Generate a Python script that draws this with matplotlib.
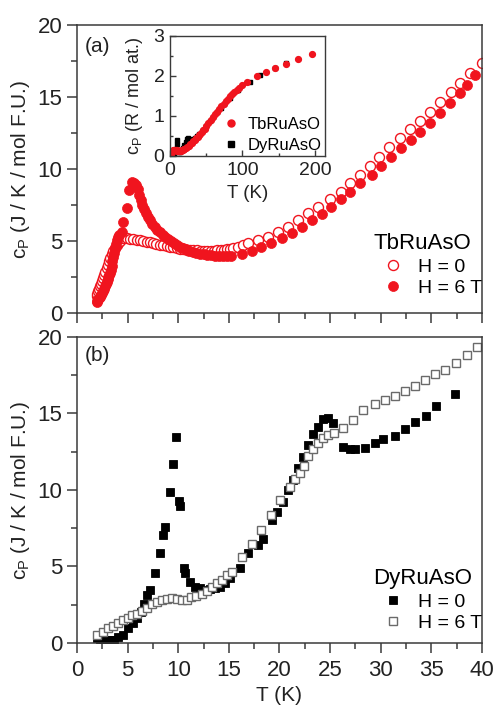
import numpy as np
import matplotlib
matplotlib.use("Agg")
import matplotlib.pyplot as plt

plt.rcParams['font.family'] = ['Liberation Sans', 'DejaVu Sans']
plt.rcParams['mathtext.fontset'] = 'custom'
plt.rcParams['mathtext.rm'] = 'Liberation Sans'
plt.rcParams['mathtext.it'] = 'Liberation Sans:italic'

# TbRuAsO, H = 0 (open circles)
tb_T_h0 = [1.94, 2.02, 2.1, 2.2, 2.3, 2.4, 2.5, 2.6, 2.7, 2.8, 2.93, 3.05, 3.17, 3.3,
           3.45, 3.6, 3.75, 3.92, 4.08, 4.25, 4.41, 4.65, 4.9, 5.2, 5.56, 5.9, 6.25,
           6.55, 6.9, 7.2, 7.53, 7.85, 8.2, 8.5, 8.85, 9.2, 9.5, 9.85, 10.2, 10.5,
           10.85, 11.15, 11.5, 11.85, 12.2, 12.5, 12.85, 13.2, 13.5, 13.85, 14.2,
           14.5, 14.8, 15.1, 15.4, 15.9, 16.4, 16.9, 17.9, 18.9, 19.9, 20.87, 21.86,
           22.85, 23.8, 25.0, 26.04, 26.96, 27.95, 28.9, 29.86, 30.85, 31.9, 32.9,
           33.9, 34.9, 35.9, 36.9, 37.8, 38.8, 40.0]
tb_c_h0 = [1.2, 1.35, 1.5, 1.65, 1.85, 2.05, 2.25, 2.45, 2.65, 2.85, 3.1, 3.35, 3.6, 3.85,
           4.1, 4.3, 4.5, 4.7, 4.84, 5.0, 5.19, 5.22, 5.2, 5.15, 5.12, 5.08, 5.05,
           5.03, 4.96, 4.92, 4.88, 4.8, 4.75, 4.72, 4.66, 4.6, 4.56, 4.5, 4.46, 4.42,
           4.4, 4.38, 4.37, 4.35, 4.34, 4.33, 4.33, 4.33, 4.33, 4.35, 4.36,
           4.38, 4.42, 4.46, 4.5, 4.6, 4.72, 4.88, 5.07, 5.3, 5.65, 6.0, 6.46,
           6.92, 7.38, 7.9, 8.42, 9.0, 9.58, 10.2, 10.85, 11.5, 12.13, 12.75,
           13.36, 13.98, 14.68, 15.37, 15.99, 16.65, 17.34]

# TbRuAsO, H = 6 T (filled circles)
tb_T_h6 = [1.94, 2.0, 2.08, 2.17, 2.27, 2.36, 2.45, 2.55, 2.65, 2.75, 2.85, 2.93, 3.02,
           3.1, 3.18, 3.26, 3.34, 3.42, 3.5, 3.59, 3.67, 3.75, 3.83, 3.92, 4.0, 4.1,
           4.41, 4.57, 4.9, 5.17, 5.4, 5.6, 5.8, 6.0, 6.15, 6.3, 6.45, 6.6, 6.8, 7.0,
           7.2, 7.45, 7.7, 7.95, 8.2, 8.45, 8.7, 9.0, 9.3, 9.6, 9.9, 10.2, 10.5, 10.8,
           11.1, 11.45, 11.8, 12.15, 12.5, 12.85, 13.2, 13.6, 14.0, 14.4, 14.8, 15.2,
           16.3, 17.25, 18.2, 19.2, 20.2, 21.2, 22.2, 23.2, 24.2, 25.1, 26.1, 27.0,
           28.0, 29.1, 30.0, 31.0, 32.0, 33.0, 33.9, 34.9, 35.9, 36.8, 37.8, 38.5, 39.3]
tb_c_h6 = [0.79, 0.85, 0.95, 1.05, 1.13, 1.25, 1.4, 1.52, 1.68, 1.85, 2.02, 2.17, 2.35,
           2.5, 2.62, 2.75, 3.0, 3.3, 3.6, 3.9, 4.2, 4.49, 4.8, 5.07, 5.25, 5.42,
           5.65, 6.34, 7.27, 8.54, 9.1, 9.05, 8.9, 8.6, 8.2, 7.85, 7.5, 7.2, 6.95, 6.7,
           6.46, 6.2, 6.0, 5.78, 5.6, 5.45, 5.3, 5.12, 4.98, 4.84, 4.72, 4.6, 4.5, 4.42,
           4.34, 4.27, 4.19, 4.12, 4.07, 4.03, 4.0, 3.98, 3.96, 3.96, 3.96, 3.97,
           4.12, 4.33, 4.56, 4.84, 5.19, 5.53, 6.0, 6.46, 6.88, 7.38, 7.9, 8.42,
           9.0, 9.58, 10.2, 10.85, 11.44, 12.0, 12.6, 13.17, 13.87, 14.56, 15.26, 15.83, 16.5]

# DyRuAsO, H = 0 (filled squares)
dy_T_h0 = [1.94, 2.3, 2.6, 2.95, 3.3, 3.65, 4.08, 4.57, 5.07, 5.56, 5.96, 6.29, 6.62,
           6.95, 7.2, 7.7, 8.2, 8.53, 8.7, 9.19, 9.45, 9.78, 10.1, 10.2, 10.57, 10.7,
           11.16, 11.65, 12.1, 12.6, 13.1, 13.6, 14.1, 14.6, 15.1, 16.1, 16.9, 17.9,
           18.4, 19.3, 19.8, 20.3, 20.8, 21.3, 21.8, 22.35, 22.85, 23.3, 23.8, 24.3,
           24.8, 25.3, 26.3, 26.96, 27.45, 28.4, 29.4, 30.25, 31.4, 32.4, 33.4, 34.5,
           35.5, 37.3]
dy_c_h0 = [0.3, 0.25, 0.22, 0.2, 0.2, 0.22, 0.41, 0.52, 0.96, 1.28, 1.61, 2.05, 2.55,
           3.14, 3.46, 4.55, 5.86, 7.06, 7.6, 9.9, 11.7, 13.45, 9.3, 8.95, 4.88, 4.6,
           4.0, 3.68, 3.57, 3.46, 3.5, 3.57, 3.68, 3.9, 4.22, 4.88, 5.86, 6.4,
           6.78, 8.04, 8.58, 9.24, 10.0, 10.65, 11.42, 12.18, 12.94, 13.66, 14.14, 14.62,
           14.69, 14.4, 12.8, 12.7, 12.65, 12.75, 13.05, 13.3, 13.55, 14.0, 14.45, 14.85,
           15.5, 16.3]

# DyRuAsO, H = 6 T (open squares)
dy_T_h6 = [1.94, 2.6, 3.1, 3.6, 4.08, 4.57, 5.07, 5.4, 5.9, 6.4, 6.9, 7.37, 7.9, 8.4,
           8.9, 9.4, 9.9, 10.4, 10.85, 11.3, 11.8, 12.3, 12.8, 13.3, 13.8, 14.3, 14.8,
           15.3, 16.3, 17.25, 18.2, 19.2, 20.1, 21.0, 21.5, 22.0, 22.4, 22.8, 23.3,
           23.8, 24.3, 24.8, 25.4, 26.3, 27.3, 28.3, 29.4, 30.4, 31.4, 32.4, 33.4,
           34.4, 35.4, 36.4, 37.4, 38.5, 39.5]
dy_c_h6 = [0.52, 0.74, 0.96, 1.1, 1.28, 1.5, 1.66, 1.81, 1.9, 2.1, 2.27, 2.53, 2.7, 2.8,
           2.9, 2.96, 2.9, 2.8, 2.8, 3.0, 3.1, 3.2, 3.43, 3.65, 3.9, 4.1, 4.45,
           4.66, 5.64, 6.5, 7.38, 8.37, 9.35, 10.2, 10.7, 11.1, 11.6, 12.2, 12.7,
           13.1, 13.4, 13.6, 13.7, 14.05, 14.6, 15.2, 15.65, 15.9, 16.15, 16.5, 16.8,
           17.2, 17.6, 17.85, 18.3, 18.8, 19.35]

# inset: cp per mol atoms (units of R) up to 200 K
in_T_tb = [2, 3, 4, 5, 6, 7, 8, 9, 10, 11, 12, 13, 14, 15, 16, 17, 18, 19, 20, 22, 24,
           26, 28, 30, 32, 34, 36, 38, 40, 42, 44, 46, 48, 50, 53, 56, 59, 62, 65, 68,
           71, 74, 77, 80, 83, 86, 89, 92, 95, 99, 107, 120, 132, 145, 160, 177, 196]
in_c_tb = [0.04, 0.1, 0.14, 0.16, 0.15, 0.15, 0.14, 0.14, 0.13, 0.13, 0.13, 0.13, 0.13,
           0.13, 0.14, 0.15, 0.16, 0.17, 0.18, 0.21, 0.23, 0.26, 0.3, 0.33, 0.37, 0.41,
           0.44, 0.48, 0.52, 0.56, 0.6, 0.64, 0.68, 0.75, 0.82, 0.9, 0.97, 1.04, 1.11,
           1.18, 1.25, 1.31, 1.37, 1.43, 1.49, 1.55, 1.6, 1.66, 1.71, 1.77, 1.86, 1.99,
           2.1, 2.2, 2.31, 2.42, 2.54]
in_T_dy = [2, 4, 6, 7, 8, 9, 9.7, 10.5, 12, 14, 16, 18, 20, 22, 24, 25, 26, 28, 30, 32,
           34, 37, 40, 45, 50, 55, 60, 65, 70, 75, 83, 94, 110, 124, 145, 160]
in_c_dy = [0.01, 0.01, 0.05, 0.1, 0.18, 0.3, 0.4, 0.15, 0.11, 0.11, 0.14, 0.2, 0.28, 0.36,
           0.43, 0.44, 0.39, 0.38, 0.4, 0.42, 0.44, 0.49, 0.55, 0.65, 0.76, 0.87, 0.98,
           1.09, 1.2, 1.31, 1.44, 1.65, 1.86, 2.02, 2.19, 2.32]

red = '#f0141e'
spine_col = '#3a3a3a'
text_col = '#222222'

fig = plt.figure(figsize=(4.95, 7.09), dpi=100)
ax1 = fig.add_axes([0.1556, 0.5585, 0.818, 0.4062])
ax2 = fig.add_axes([0.1556, 0.0931, 0.818, 0.4316])


def style_main(ax):
    ax.set_xlim(0, 40)
    ax.set_ylim(0, 20)
    ax.set_xticks(np.arange(0, 41, 5))
    ax.set_xticks(np.arange(2.5, 40, 5), minor=True)
    ax.set_yticks(np.arange(0, 21, 5))
    ax.set_yticks(np.arange(2.5, 20, 5), minor=True)
    ax.tick_params(which='both', direction='out', top=False, right=False,
                   color=spine_col, width=1.1, labelsize=16, labelcolor=text_col)
    ax.tick_params(which='major', length=7)
    ax.tick_params(which='minor', length=4)
    ax.tick_params(axis='x', which='major', pad=5.5)
    for s in ax.spines.values():
        s.set_color(spine_col)
        s.set_linewidth(1.1)
    ax.set_ylabel(r'c$_\mathrm{P}$ (J / K / mol F.U.)', fontsize=15, color=text_col)
    ax.yaxis.set_label_coords(-0.11, 0.5)


def add_legend(ax, title, y0):
    return ax.legend(title=title, loc='lower right', bbox_to_anchor=(1.0, y0),
                     frameon=False, fontsize=14, title_fontsize=16, alignment='left',
                     handlelength=2.0, handletextpad=0.3, labelspacing=0.2,
                     borderpad=0.0, borderaxespad=0.0)


# (a) TbRuAsO
style_main(ax1)
ax1.tick_params(labelbottom=False)
ax1.plot(tb_T_h0, tb_c_h0, 'o', ms=7.2, mfc='white', mec=red, mew=1.0,
         linestyle='none', label='H = 0')
ax1.plot(tb_T_h6, tb_c_h6, 'o', ms=7.2, mfc=red, mec=red, mew=0.5,
         linestyle='none', label='H = 6 T')
ax1.text(0.05, 0.925, '(a)', transform=ax1.transAxes, fontsize=15,
         ha='center', va='center', color=text_col)
add_legend(ax1, 'TbRuAsO', 0.055)

# (b) DyRuAsO
style_main(ax2)
ax2.plot(dy_T_h0, dy_c_h0, 's', ms=6.2, mfc='black', mec='black', mew=0.6,
         linestyle='none', label='H = 0')
ax2.plot(dy_T_h6, dy_c_h6, 's', ms=6.2, mfc='white', mec='#6a6a6a', mew=1.0,
         linestyle='none', label='H = 6 T')
ax2.set_xlabel('T (K)', fontsize=15, color=text_col)
ax2.xaxis.set_label_coords(0.5, -0.14)
ax2.text(0.05, 0.94, '(b)', transform=ax2.transAxes, fontsize=15,
         ha='center', va='center', color=text_col)
add_legend(ax2, 'DyRuAsO', 0.035)

# inset: both compounds per mol atoms
axin = fig.add_axes([0.3434, 0.780, 0.3131, 0.1693])
axin.plot(in_T_dy, in_c_dy, 's', ms=3.4, mfc='black', mec='black',
          linestyle='none', label='DyRuAsO')
axin.plot(in_T_tb, in_c_tb, 'o', ms=4.2, mfc=red, mec=red,
          linestyle='none', label='TbRuAsO')
axin.set_xlim(0, 214)
axin.set_ylim(0, 3)
axin.set_xticks([0, 100, 200])
axin.set_xticks([50, 150], minor=True)
axin.set_yticks([0, 1, 2, 3])
axin.set_yticks([0.5, 1.5, 2.5], minor=True)
axin.tick_params(which='both', direction='in', top=False, right=False,
                 color=spine_col, width=1.0, labelsize=14, labelcolor=text_col, pad=4)
axin.tick_params(which='major', length=4)
axin.tick_params(which='minor', length=2.5)
for s in axin.spines.values():
    s.set_color(spine_col)
    s.set_linewidth(1.0)
axin.set_xlabel('T (K)', fontsize=13.5, color=text_col, labelpad=5)
axin.set_ylabel(r'c$_\mathrm{P}$ (R / mol at.)', fontsize=13, color=text_col)
axin.yaxis.set_label_coords(-0.16, 0.5)
h, l = axin.get_legend_handles_labels()
axin.legend(h[::-1], l[::-1], loc='lower right', frameon=False, fontsize=12,
            handlelength=1.0, handletextpad=0.5, labelspacing=0.35,
            borderpad=0.2, borderaxespad=0.0, markerscale=1.2)

fig.savefig('out.png', dpi=100)
